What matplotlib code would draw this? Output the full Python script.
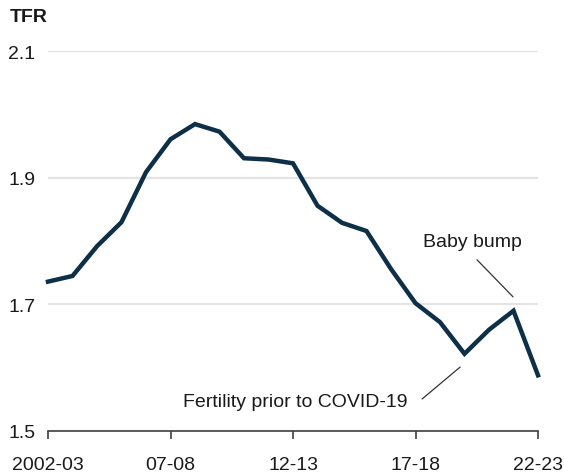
import matplotlib
matplotlib.use("Agg")
import matplotlib.pyplot as plt

# Total fertility rate by year
years = ["2002-03", "03-04", "04-05", "05-06", "06-07", "07-08", "08-09",
         "09-10", "10-11", "11-12", "12-13", "13-14", "14-15", "15-16",
         "16-17", "17-18", "18-19", "19-20", "20-21", "21-22", "22-23"]
tfr = [1.736, 1.745, 1.792, 1.830, 1.909, 1.961, 1.985, 1.973, 1.931, 1.929,
       1.923, 1.856, 1.829, 1.816, 1.756, 1.702, 1.672, 1.622, 1.660, 1.690,
       1.588]
tick_labels = ["2002-03", "07-08", "12-13", "17-18", "22-23"]

plt.rcParams['font.family'] = ['Liberation Sans', 'DejaVu Sans']

fig = plt.figure(figsize=(5.64, 4.77), dpi=100)
ax = fig.add_axes([48 / 564, 1 - 432 / 477, 490 / 564, (432 - 52.3) / 477])

x = list(range(len(years)))
ax.plot(x, tfr, color='#0d2f48', linewidth=3.2, solid_joinstyle='miter',
        clip_on=False, zorder=3)

ax.set_xlim(0, 20)
ax.set_ylim(1.5, 2.1)
ax.set_yticks([1.5, 1.7, 1.9, 2.1])
ax.set_yticklabels(["1.5", "1.7", "1.9", "2.1"])
ax.set_xticks([years.index(t) for t in tick_labels])
ax.set_xticklabels(tick_labels)

ax.grid(axis='y', color='#e3e3e3', linewidth=1.5)
ax.set_axisbelow(True)
for side in ['left', 'right', 'top']:
    ax.spines[side].set_visible(False)
ax.spines['bottom'].set_color('#404040')
ax.spines['bottom'].set_linewidth(1.2)

ax.tick_params(axis='y', length=0, pad=9, labelsize=14, labelcolor='#1a1a1a')
ax.tick_params(axis='x', length=6, width=1.2, color='#404040', pad=12,
               labelsize=14, labelcolor='#1a1a1a')

fig.text(10 / 564, 1 - 18 / 477, "TFR", fontsize=14, fontweight='bold',
         ha='left', va='center', color='#1a1a1a')

# annotations
ax.text(17.31, 1.799, "Baby bump", fontsize=14, ha='center', va='center',
        color='#1a1a1a')
ax.annotate("", xy=(18.98, 1.712), xytext=(17.51, 1.7706),
            arrowprops=dict(arrowstyle='-', color='#333333', linewidth=0.9,
                            shrinkA=0, shrinkB=0))
ax.text(10.08, 1.546, "Fertility prior to COVID-19", fontsize=14,
        ha='center', va='center', color='#1a1a1a')
ax.annotate("", xy=(16.82, 1.601), xytext=(15.27, 1.5506),
            arrowprops=dict(arrowstyle='-', color='#333333', linewidth=0.9,
                            shrinkA=0, shrinkB=0))

fig.savefig("out.png", dpi=100)
